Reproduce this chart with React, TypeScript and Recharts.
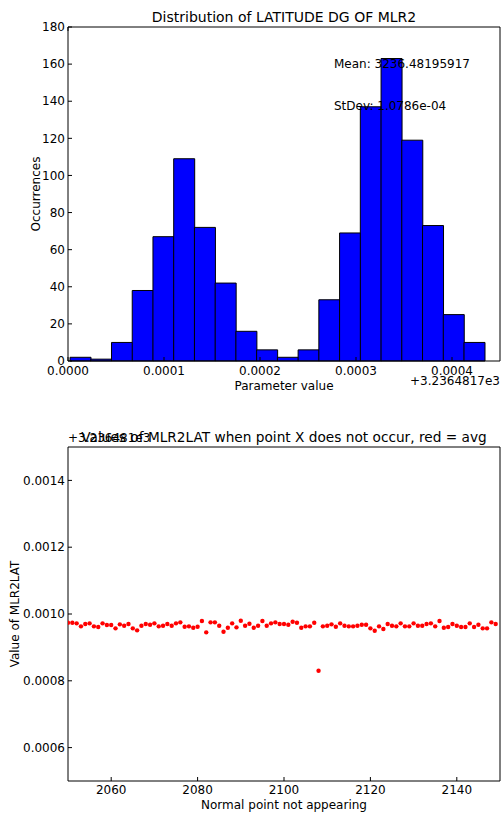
import React from "react"
import {
  ComposedChart,
  Bar,
  ScatterChart,
  Scatter,
  XAxis,
  YAxis,
} from "recharts"

// histogram of the latitude offsets (value - 3236.4817)
const BIN_START = 0.0000021
const BIN_WIDTH = 0.0000216
const binCounts = [2, 1, 10, 38, 67, 109, 72, 42, 16, 6, 2, 6, 33, 69, 137, 163, 119, 73, 25, 10]
const histXTicks = [0, 0.0001, 0.0002, 0.0003, 0.0004]
const histYTicks = [0, 20, 40, 60, 80, 100, 120, 140, 160, 180]

// scatter: value of MLR2LAT (offset from 3236.481) per normal point
const pointIds = [
  2050, 2051, 2052, 2053, 2054, 2055, 2056, 2057, 2058, 2059,
  2060, 2061, 2062, 2063, 2064, 2065, 2066, 2067, 2068, 2069,
  2070, 2071, 2072, 2073, 2074, 2075, 2076, 2077, 2078, 2079,
  2080, 2081, 2082, 2083, 2084, 2085, 2086, 2087, 2088, 2089,
  2090, 2091, 2092, 2093, 2094, 2095, 2096, 2097, 2098, 2099,
  2100, 2101, 2102, 2103, 2104, 2105, 2106, 2107, 2108, 2109,
  2110, 2111, 2112, 2113, 2114, 2115, 2116, 2117, 2118, 2119,
  2120, 2121, 2122, 2123, 2124, 2125, 2126, 2127, 2128, 2129,
  2130, 2131, 2132, 2133, 2134, 2135, 2136, 2137, 2138, 2139,
  2140, 2141, 2142, 2143, 2144, 2145, 2146, 2147, 2148, 2149,
]
const pointValues = [
  0.000974, 0.000974, 0.000972, 0.000963, 0.00097, 0.000972, 0.000963, 0.000961, 0.000972, 0.000967,
  0.000967, 0.000957, 0.000969, 0.000965, 0.00097, 0.000957, 0.000951, 0.000965, 0.00097, 0.000968,
  0.000972, 0.000963, 0.000965, 0.00097, 0.000965, 0.000972, 0.000975, 0.000962, 0.000963, 0.000959,
  0.000962, 0.000979, 0.000945, 0.000975, 0.000975, 0.000965, 0.000947, 0.000959, 0.000972, 0.00096,
  0.00098, 0.000965, 0.000971, 0.000959, 0.000965, 0.000979, 0.000965, 0.000972, 0.000975, 0.00097,
  0.00097, 0.000968, 0.000977, 0.000974, 0.000959, 0.000963, 0.000963, 0.000974, 0.00083, 0.000963,
  0.000965, 0.000969, 0.000962, 0.000972, 0.000965, 0.000963, 0.000963, 0.000965, 0.000968, 0.000968,
  0.000957, 0.00095, 0.000963, 0.000955, 0.00097, 0.000965, 0.000963, 0.000972, 0.000963, 0.000963,
  0.000972, 0.000965, 0.000965, 0.00097, 0.000972, 0.000963, 0.000979, 0.000959, 0.000961, 0.00097,
  0.000965, 0.000961, 0.000961, 0.000972, 0.000961, 0.000968, 0.000957, 0.000957, 0.000975, 0.00097,
]
const scatterXTicks = [2060, 2080, 2100, 2120, 2140]
const scatterYTicks = [0.0006, 0.0008, 0.001, 0.0012, 0.0014]

const FONT = "'DejaVu Sans', sans-serif"
const tickStyle = { fill: "#000", fontSize: 12, fontFamily: FONT }
const noLabel = () => ""

const Dot = (props: any) => (
  <circle cx={props.cx} cy={props.cy} r={2.2} fill="#ff0000" />
)

export default function App() {
  const bins = binCounts.map((count, i) => ({
    mid: BIN_START + (i + 0.5) * BIN_WIDTH,
    count,
  }))
  const points = pointIds.map((id, i) => ({ id, value: pointValues[i] }))

  const text = (s: string, style: React.CSSProperties) => (
    <div
      style={{
        position: "absolute",
        fontFamily: FONT,
        fontSize: 12,
        color: "#000",
        whiteSpace: "nowrap",
        lineHeight: "14px",
        ...style,
      }}
    >
      {s}
    </div>
  )

  return (
    <div
      style={{
        position: "absolute",
        left: 0,
        top: 0,
        width: 503,
        height: 813,
        background: "#fff",
        fontFamily: FONT,
      }}
    >
      <div style={{ position: "absolute", left: 0, top: 0 }}>
        <ComposedChart
          width={503}
          height={400}
          data={bins}
          margin={{ top: 26, right: 2, bottom: 0, left: 0 }}
          barCategoryGap={0}
          barGap={0}
        >
          <XAxis
            dataKey="mid"
            type="number"
            domain={[0, 0.00045]}
            ticks={histXTicks}
            tickFormatter={(v: number) => v.toFixed(4)}
            allowDataOverflow
            height={39}
            tick={tickStyle}
            tickSize={-4}
            tickMargin={9}
            stroke="#000"
            label={{
              value: "Parameter value",
              position: "insideBottom",
              offset: 10,
              style: { fill: "#000", fontSize: 12, fontFamily: FONT },
            }}
          />
          <XAxis
            xAxisId="top"
            orientation="top"
            type="number"
            domain={[0, 0.00045]}
            ticks={histXTicks}
            tickFormatter={noLabel}
            height={1}
            tickSize={-4}
            stroke="#000"
          />
          <YAxis
            type="number"
            domain={[0, 180]}
            ticks={histYTicks}
            width={68}
            tick={tickStyle}
            tickSize={-4}
            tickMargin={7}
            stroke="#000"
            label={{
              value: "Occurrences",
              angle: -90,
              position: "insideLeft",
              offset: 36,
              style: { fill: "#000", fontSize: 12, fontFamily: FONT, textAnchor: "middle" },
            }}
          />
          <YAxis
            yAxisId="right"
            orientation="right"
            type="number"
            domain={[0, 180]}
            ticks={histYTicks}
            tickFormatter={noLabel}
            width={1}
            tickSize={-4}
            stroke="#000"
          />
          <Bar
            dataKey="count"
            fill="#0000ff"
            stroke="#000"
            strokeWidth={1}
            isAnimationActive={false}
          />
        </ComposedChart>
      </div>

      {text("Distribution of LATITUDE DG OF MLR2", {
        left: 68,
        width: 432,
        top: 9,
        textAlign: "center",
        fontSize: 14,
        lineHeight: "17px",
      })}
      {text("Mean: 3236.48195917", { left: 334, top: 57 })}
      {text("StDev: 1.0786e-04", { left: 334, top: 99 })}
      {text("+3.2364817e3", { right: 3, top: 374 })}

      <div style={{ position: "absolute", left: 0, top: 400 }}>
        <ScatterChart
          width={503}
          height={413}
          margin={{ top: 46, right: 2, bottom: 0, left: 0 }}
        >
          <XAxis
            dataKey="id"
            type="number"
            domain={[2050, 2150]}
            ticks={scatterXTicks}
            allowDataOverflow
            height={32}
            tick={tickStyle}
            tickSize={-4}
            tickMargin={8}
            stroke="#000"
            label={{
              value: "Normal point not appearing",
              position: "insideBottom",
              offset: 4,
              style: { fill: "#000", fontSize: 12, fontFamily: FONT },
            }}
          />
          <XAxis
            xAxisId="top"
            orientation="top"
            type="number"
            domain={[2050, 2150]}
            ticks={scatterXTicks}
            tickFormatter={noLabel}
            height={1}
            tickSize={-4}
            stroke="#000"
          />
          <YAxis
            dataKey="value"
            type="number"
            domain={[0.0005, 0.0015]}
            ticks={scatterYTicks}
            tickFormatter={(v: number) => v.toFixed(4)}
            allowDataOverflow
            width={68}
            tick={tickStyle}
            tickSize={-4}
            tickMargin={7}
            stroke="#000"
            label={{
              value: "Value of MLR2LAT",
              angle: -90,
              position: "insideLeft",
              offset: 15,
              style: { fill: "#000", fontSize: 12, fontFamily: FONT, textAnchor: "middle" },
            }}
          />
          <YAxis
            yAxisId="right"
            orientation="right"
            type="number"
            domain={[0.0005, 0.0015]}
            ticks={scatterYTicks}
            tickFormatter={noLabel}
            width={1}
            tickSize={-4}
            stroke="#000"
          />
          <Scatter data={points} shape={Dot} isAnimationActive={false} />
        </ScatterChart>
      </div>

      {text("+3.236481e3", { left: 68, top: 431 })}
      {text("Values of MLR2LAT when point X does not occur, red = avg", {
        left: 68,
        width: 432,
        top: 429,
        textAlign: "center",
        fontSize: 13.7,
        lineHeight: "17px",
      })}
    </div>
  )
}
